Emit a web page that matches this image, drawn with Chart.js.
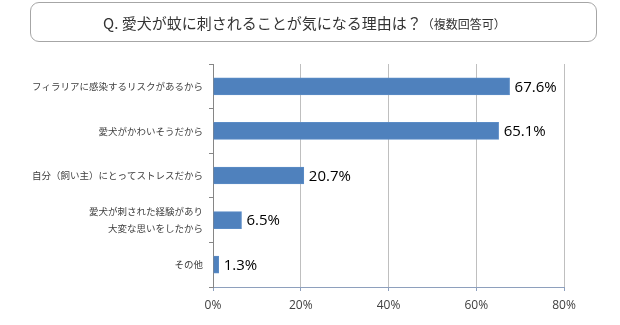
<!DOCTYPE html>
<html lang="ja">
<head>
<meta charset="utf-8">
<title>愛犬が蚊に刺されることが気になる理由</title>
<script src="https://cdn.jsdelivr.net/npm/chart.js@4/dist/chart.umd.min.js"></script>
<style>
    html, body { margin: 0; padding: 0; background: #fff; }
    #wrap { position: relative; width: 620px; height: 325px; }
    #question {
        position: absolute; left: 30px; top: 2px; width: 565px; height: 38px;
        border: 1px solid #a6a6a6; border-radius: 9px; box-sizing: content-box;
        font-family: "Noto Sans CJK JP", sans-serif; color: #333;
    }
    #question span.q { position: absolute; left: 72px; top: 10px; font-size: 15px; line-height: 20px; white-space: nowrap; }
    #question small { font-size: 12px; }
    #chartBox { position: absolute; left: 0; top: 0; width: 620px; height: 325px; }
</style>
</head>
<body>
<div id="wrap">
    <div id="chartBox"><canvas id="reasonChart" width="620" height="325"></canvas></div>
    <div id="question"><span class="q">Q. 愛犬が蚊に刺されることが気になる理由は？<small>（複数回答可）</small></span></div>
</div>
<script>
// ===============================
// 蚊に刺されることが気になる理由 – 横棒グラフ
// ===============================

const reasons = [
    "フィラリアに感染するリスクがあるから",
    "愛犬がかわいそうだから",
    "自分（飼い主）にとってストレスだから",
    ["愛犬が刺された経験があり", "大変な思いをしたから"],
    "その他"
];
const percents = [67.6, 65.1, 20.7, 6.5, 1.3];
const axisTicks = [0, 20, 40, 60, 80];

// Value label to the right of each bar
const barValueLabels = {
    id: 'barValueLabels',
    afterDatasetsDraw(chart) {
        const ctx = chart.ctx;
        const meta = chart.getDatasetMeta(0);
        ctx.save();
        ctx.font = '15px "Open Sans", sans-serif';
        ctx.fillStyle = '#000';
        ctx.textAlign = 'left';
        ctx.textBaseline = 'middle';
        meta.data.forEach((bar, i) => {
            ctx.fillText(percents[i].toFixed(1) + '%', bar.x + 5, bar.y + 1);
        });
        ctx.restore();
    }
};

const ctx = document.getElementById('reasonChart').getContext('2d');
new Chart(ctx, {
    type: 'bar',
    data: {
        labels: reasons,
        datasets: [{
            data: percents,
            backgroundColor: '#4f81bd',
            borderColor: '#5b8cc6',
            borderWidth: 1,
            borderSkipped: 'left',
            barThickness: 17
        }]
    },
    options: {
        indexAxis: 'y',
        responsive: false,
        animation: false,
        devicePixelRatio: 1,
        layout: { padding: { top: 64, right: 56, bottom: 0, left: 0 } },
        plugins: {
            legend: { display: false },
            tooltip: { enabled: false }
        },
        scales: {
            x: {
                min: 0,
                max: 80,
                afterBuildTicks: scale => { scale.ticks = axisTicks.map(v => ({ value: v })); },
                afterFit: scale => { scale.height = 38; },
                border: { color: '#8ea0bd', width: 1 },
                grid: { color: '#bfbfbf', tickColor: '#8ea0bd', tickLength: 4, lineWidth: 1 },
                ticks: {
                    padding: 7,
                    maxRotation: 0,
                    color: '#404040',
                    font: { family: '"Open Sans", sans-serif', size: 12 },
                    callback: v => v + '%'
                }
            },
            y: {
                afterFit: scale => { scale.width = 213; },
                border: { color: '#868686', width: 1 },
                grid: { offset: true, drawOnChartArea: false, color: '#868686', tickLength: 4 },
                ticks: {
                    padding: 6,
                    color: '#404040',
                    font: { family: '"Noto Sans CJK JP", sans-serif', size: 9.5, lineHeight: 1.8 }
                }
            }
        }
    },
    plugins: [barValueLabels]
});
</script>
</body>
</html>
